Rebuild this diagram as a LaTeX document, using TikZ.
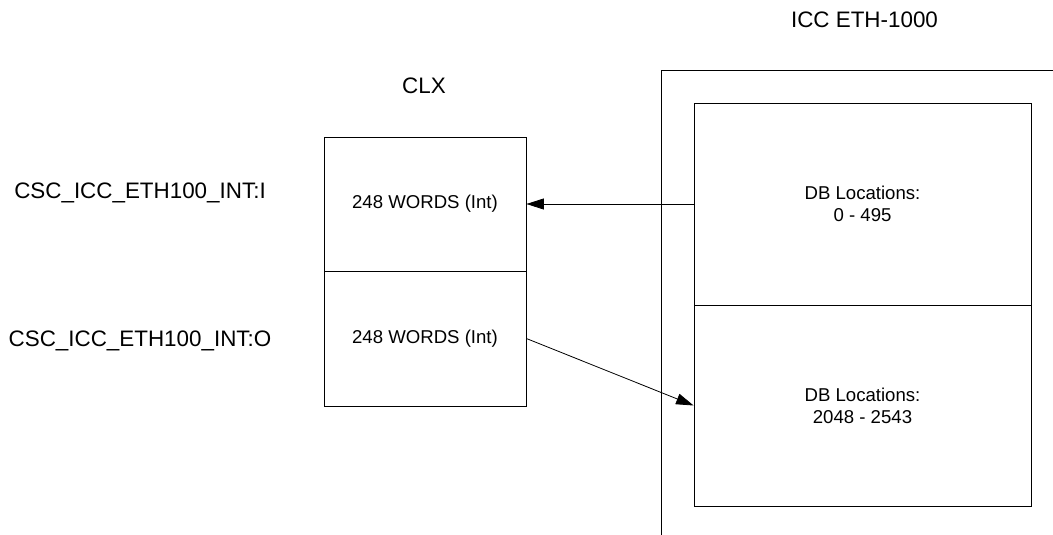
\documentclass[tikz,border=0pt]{standalone}
\usepackage{fontspec}
\setmainfont{Liberation Sans}
\usetikzlibrary{arrows.meta}
\begin{document}
\begin{tikzpicture}[x=1pt,y=-1pt,
  box/.style={draw, line width=0.8pt, rectangle, inner sep=0pt, align=center, font=\fontsize{18.6}{22}\selectfont},
  lbl/.style={inner sep=0pt, anchor=base, font=\fontsize{22.4}{26}\selectfont},
  conn/.style={line width=0.8pt, -{Triangle[length=17.5pt,width=11pt]}}]
\useasboundingbox (0,0) rectangle (1053,535);
% outer ICC box (cropped)
\draw[line width=0.8pt] (661,535) |- (1053,70);
% CLX boxes
\node[box, minimum width=202pt, minimum height=134pt] (clxI) at (425,204) {248 WORDS (Int)};
\node[box, minimum width=202pt, minimum height=135pt] (clxO) at (425,338.5) {248 WORDS (Int)};
% DB boxes
\node[box, minimum width=337pt, minimum height=202pt] (dbI) at (862.5,204) {DB Locations:\\0 - 495};
\node[box, minimum width=337pt, minimum height=201pt] (dbO) at (862.5,405.5) {DB Locations:\\2048 - 2543};
% labels
\node[lbl] (title) at (864.5,28) {ICC ETH-1000};
\node[lbl] (clx) at (424,93) {CLX};
\node[lbl] (lblI) at (140,198) {CSC\_ICC\_ETH100\_INT:I};
\node[lbl] (lblO) at (140,346.5) {CSC\_ICC\_ETH100\_INT:O};
% connectors
\draw[conn] (dbI.west) -- (clxI.east);
\draw[conn] (clxO.east) -- (dbO.west);
\end{tikzpicture}
\end{document}
